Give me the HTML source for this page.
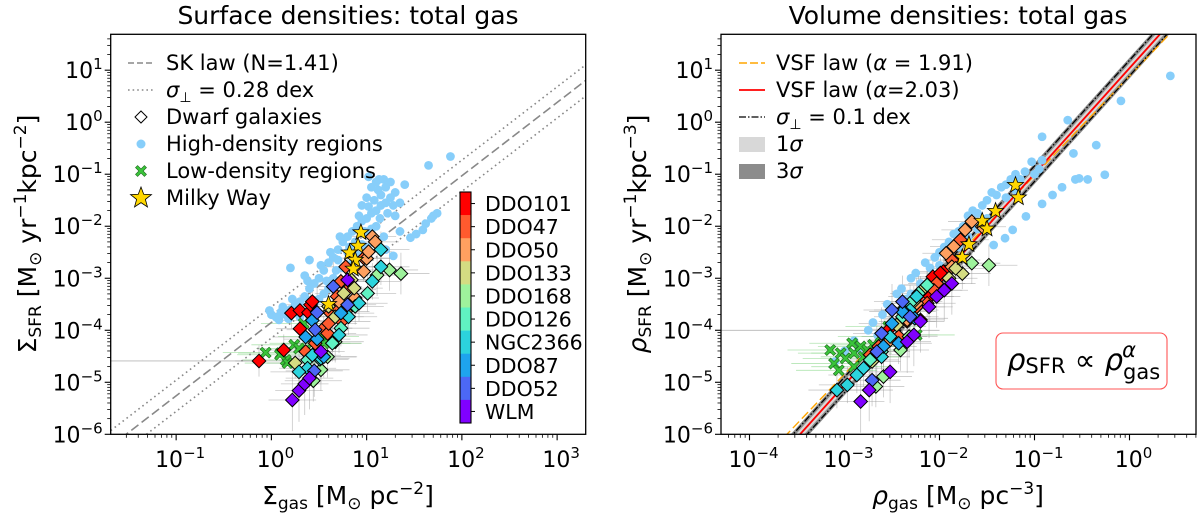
<!DOCTYPE html>
<html><head><meta charset="utf-8">
<style>
html,body{margin:0;padding:0;background:#fff;}
svg{display:block;font-family:"DejaVu Sans","Liberation Sans",sans-serif;}
</style></head>
<body>
<svg id="fig" width="1200" height="513" viewBox="0 0 1200 513" xmlns="http://www.w3.org/2000/svg">
<defs>
<clipPath id="clipL"><rect x="110.7" y="34.3" width="475" height="400"/></clipPath>
<clipPath id="clipR"><rect x="721" y="34.3" width="475" height="400"/></clipPath>
</defs>
<g id="gL"></g>
<g id="gR"></g>
</svg>
<script>
// ---------- DATA (log10 units) ----------
const galaxyNames = ["DDO101","DDO47","DDO50","DDO133","DDO168","DDO126","NGC2366","DDO87","DDO52","WLM"];
const galaxyColors = ["#ff0000","#ff5a2e","#ffa060","#d4dc82","#9ef29c","#60f2c2","#2cd3dd","#1ea4ee","#4c68f6","#8000ff"];
const errXdex = [0.25,0.3,0.25,0.3,0.3,0.3,0.3,0.35,0.3,0.25];
const errYdex = [0.3,0.25,0.2,0.3,0.4,0.35,0.35,0.4,0.5,0.6];

const leftBlue = [[0.0,-3.7],[0.05,-3.75],[0.1,-3.65],[0.15,-3.7],[0.2,-3.6],[0.12,-3.55],[0.25,-3.5],[-0.02,-3.62],[0.3,-3.45],[0.35,-3.35],[0.22,-3.4],[0.4,-3.2],[0.45,-3.1],[0.5,-3.0],[0.38,-3.05],[0.55,-2.85],[0.6,-2.7],[0.52,-2.75],[0.65,-2.6],[0.7,-2.45],[0.62,-2.5],[0.75,-2.3],[0.8,-2.2],[0.72,-2.2],[0.85,-2.1],[0.9,-2.0],[0.95,-1.9],[1.0,-1.85],[0.92,-1.8],[1.05,-1.75],[1.1,-1.7],[1.02,-1.62],[1.15,-1.6],[1.2,-1.55],[1.08,-1.5],[1.12,-1.3],[1.15,-1.4],[1.25,-1.45],[1.05,-1.25],[1.18,-1.1],[1.3,-1.35],[1.35,-1.55],[1.02,-1.05],[1.4,-1.2],[1.65,-0.83],[1.88,-0.66],[1.74,-1.75],[1.68,-1.85],[1.59,-2.07],[1.46,-2.22],[1.28,-2.57],[1.2,-2.45],[1.1,-2.3],[1.0,-2.4],[0.9,-2.55],[0.4,-2.65],[0.2,-2.8],[0.35,-2.95],[0.6,-3.2],[0.75,-2.8],[0.85,-2.7],[0.95,-2.35],[1.1,-2.0],[1.3,-1.8],[0.55,-3.3],[0.45,-3.5],[0.3,-3.75],[0.65,-3.0],[1.13,-1.1],[1.2,-1.25],[1.25,-1.15],
[0.08,-3.8],[0.18,-3.78],[0.28,-3.62],[0.5,-3.4],[0.58,-3.05],[0.68,-2.85],[0.8,-2.5],[0.88,-2.3],[0.98,-2.1],[1.05,-2.05],[1.14,-1.85],[1.22,-1.75],[1.0,-1.45],[0.95,-1.6],[1.1,-1.15],[1.28,-1.6],[0.7,-2.65],[0.82,-2.4],[1.18,-2.2],[1.35,-2.1],[1.52,-2.15],[1.62,-1.95],[1.7,-1.8]];
const leftDiamonds = [[0.21,-3.67,0],[0.30,-3.62,0],[0.39,-3.66,0],[0.41,-3.51,0],[0.43,-3.45,0],[0.30,-3.97,0],[0.13,-4.38,0],[-0.13,-4.59,0],
[0.78,-2.78,1],[0.73,-3.06,1],[0.69,-3.35,1],[0.62,-3.67,1],[0.55,-3.96,1],[0.59,-4.06,1],[0.46,-4.25,1],[0.36,-4.41,1],[0.67,-3.54,1],[0.80,-3.22,1],[0.97,-2.61,1],[0.74,-3.83,1],[0.60,-3.87,1],
[1.06,-2.2,2],[1.0,-2.62,2],[1.02,-2.49,2],[0.97,-2.87,2],[0.88,-3.38,2],[0.83,-3.03,2],[1.09,-2.3,2],[0.71,-3.45,2],[0.78,-3.64,2],
[0.84,-3.03,3],[0.60,-3.54,3],[0.25,-4.63,3],[0.87,-3.19,3],[0.76,-3.29,3],[0.67,-3.74,3],
[1.36,-2.91,4],[1.24,-2.84,4],[1.11,-2.94,4],[0.44,-4.97,4],[0.52,-4.76,4],[0.59,-4.51,4],[0.67,-4.22,4],
[1.01,-3.29,5],[0.88,-3.54,5],[0.73,-3.96,5],[0.64,-4.25,5],[0.51,-4.56,5],[0.38,-4.57,5],
[1.15,-2.45,6],[1.15,-2.78,6],[1.06,-3.06,6],[0.92,-3.48,6],[0.81,-3.74,6],[0.71,-4.09,6],[0.52,-4.54,6],[0.38,-4.73,6],[0.29,-4.80,6],[0.43,-4.48,6],
[0.43,-3.81,7],[0.36,-4.13,7],[0.55,-4.51,7],[0.48,-4.17,7],[0.73,-3.67,7],
[0.65,-3.16,8],[0.48,-3.66,8],[0.46,-3.99,8],[0.45,-4.78,8],[0.80,-3.51,8],
[0.22,-5.34,9],[0.29,-5.16,9],[0.35,-5.03,9],[0.40,-4.92,9],[0.80,-3.03,9],[0.52,-4.41,9]];
const leftCross = [[-0.06,-4.43],[0.15,-4.57],[0.34,-3.87],[0.10,-4.44],[0.24,-4.28],[0.29,-4.35],[0.43,-4.25],[0.52,-4.12],[0.17,-4.63],[0.55,-4.25],[0.09,-4.47]];
const leftStars = [[0.94,-2.12],[0.91,-2.38],[0.82,-2.51],[0.88,-2.65],[0.86,-2.82],[0.60,-3.5]];
const skSlope = 1.41, skIntercept = -3.85, skScatterDex = 0.30;

const rightBlue = [[-3.1,-4.6],[-3.0,-4.4],[-2.9,-4.2],[-2.85,-4.35],[-2.75,-4.0],[-2.7,-3.85],[-2.65,-4.1],[-2.6,-3.7],[-2.55,-3.5],[-2.5,-3.6],[-2.45,-3.3],[-2.4,-3.2],[-2.35,-3.4],[-2.3,-3.0],[-2.25,-2.9],[-2.2,-3.1],[-2.15,-2.7],[-2.1,-2.8],[-2.05,-2.6],[-2.0,-2.5],[-1.95,-2.4],[-1.9,-2.3],[-1.85,-2.15],[-1.8,-2.1],[-1.75,-2.0],[-1.7,-1.8],[-1.65,-1.7],[-1.6,-1.75],[-1.55,-1.6],[-1.5,-1.5],[-1.45,-1.35],[-1.4,-1.4],[-1.35,-1.25],[-1.3,-1.2],[-1.25,-1.1],[-1.2,-1.0],[-1.15,-1.1],[-1.1,-0.95],[-1.3,-1.45],[-1.2,-1.3],[-1.5,-1.85],[-1.6,-2.05],[-1.7,-2.2],[-2.3,-3.3],[-2.5,-3.9],[-2.8,-4.5],[-2.0,-2.75],[-1.8,-2.4],
[0.43,0.89],[-0.09,0.41],[-0.65,0.04],[-0.35,-0.44],[-0.59,-0.6],[-0.26,-1.01],[-0.44,-1.1],[-0.57,-1.1],[-0.53,-1.08],[-0.71,-1.25],[-0.81,-1.4],[-0.92,-1.57],[-0.92,-0.73],[-0.92,-0.28],[-1.03,-0.76],[-1.09,-1.81],[-1.23,-2.07],[-1.31,-2.23],[-1.43,-2.36],[-0.95,-0.9],[-1.0,-1.0]];
const rightDiamonds = [[-1.96,-2.87,0],[-2.01,-3.0,0],[-2.07,-2.97,0],[-2.10,-3.35,0],[-2.20,-3.80,0],[-2.53,-3.98,0],[-2.13,-3.13,0],[-1.99,-2.9,0],
[-1.78,-2.26,1],[-1.87,-2.65,1],[-2.03,-3.10,1],[-2.13,-3.48,1],[-2.24,-3.55,1],[-2.34,-3.83,1],[-2.43,-4.12,1],[-2.73,-4.47,1],[-2.64,-4.31,1],[-2.06,-3.23,1],
[-1.66,-1.91,2],[-1.73,-2.07,2],[-1.55,-2.01,2],[-1.85,-2.39,2],[-1.93,-2.52,2],[-2.24,-3.48,2],[-2.52,-4.19,2],[-2.34,-3.80,2],[-1.87,-2.78,2],
[-1.76,-2.91,3],[-1.83,-2.81,3],[-2.20,-3.26,3],[-2.27,-3.45,3],[-1.90,-3.0,3],[-2.71,-4.6,3],[-2.45,-3.90,3],
[-1.48,-2.75,4],[-1.66,-2.71,4],[-2.59,-4.89,4],[-2.67,-5.08,4],[-2.41,-4.38,4],[-2.32,-4.12,4],
[-2.13,-3.13,5],[-2.22,-3.29,5],[-2.31,-3.48,5],[-2.39,-3.74,5],[-2.73,-4.57,5],[-2.61,-4.41,5],
[-2.24,-3.35,6],[-2.31,-3.61,6],[-2.39,-3.61,6],[-2.52,-4.12,6],[-2.61,-4.51,6],[-2.80,-4.73,6],[-2.87,-4.86,6],[-2.97,-5.05,6],[-3.08,-5.15,6],
[-2.39,-3.64,7],[-2.50,-3.87,7],[-2.43,-4.25,7],[-2.59,-4.31,7],[-2.26,-3.77,7],
[-2.39,-3.45,8],[-2.50,-3.61,8],[-2.61,-4.06,8],[-2.66,-4.41,8],[-2.71,-4.96,8],[-2.31,-3.74,8],
[-2.83,-5.37,9],[-2.74,-5.15,9],[-2.52,-4.80,9],[-2.34,-4.22,9],[-2.27,-4.09,9],[-2.20,-3.83,9],[-2.11,-3.55,9],[-2.03,-3.35,9],[-1.95,-3.23,9],[-1.87,-3.10,9]];
const rightCross = [[-3.15,-4.38],[-3.04,-4.44],[-3.11,-4.64],[-2.99,-4.54],[-2.90,-4.44],[-2.83,-4.31],[-2.80,-4.51],[-2.70,-4.28],[-2.90,-4.70],[-2.62,-4.12],[-2.54,-3.93],[-2.24,-4.09],[-2.92,-4.25],[-2.76,-4.38],[-3.06,-4.77]];
const rightStars = [[-1.20,-1.21],[-1.17,-1.45],[-1.41,-1.71],[-1.55,-1.90],[-1.69,-2.35],[-1.76,-2.6],[-1.5,-2.05]];
const vsfSlopeA = 1.91, vsfInterceptA = 0.888;
const vsfSlopeB = 2.03, vsfInterceptB = 1.04;
const vsfScatterDex = 0.15;

const yTickExps = [-6,-5,-4,-3,-2,-1,0,1];
const xTickExpsL = [-1,0,1,2,3];
const xTickExpsR = [-4,-3,-2,-1,0];

// ---------- helpers ----------
const NS="http://www.w3.org/2000/svg";
function el(tag, attrs, parent){const e=document.createElementNS(NS,tag);for(const k in attrs)e.setAttribute(k,attrs[k]);if(parent)parent.appendChild(e);return e;}
function mkAxes(x0,x1,lxmin,lxmax){
  return {x0:x0,x1:x1,y0:434.3,y1:34.3,
    sx:lx=>x0+(lx-lxmin)/(lxmax-lxmin)*(x1-x0),
    sy:ly=>434.3-(ly+6)/(1.69+6)*400, lxmin:lxmin,lxmax:lxmax};
}
const AL = mkAxes(110.7,585.7,-1.687,3.30);
const AR = mkAxes(721,1196,-4.30,0.70);

function diamondPath(x,y,r){return `M${x},${y-r}L${x+r},${y}L${x},${y+r}L${x-r},${y}Z`;}
function starPath(x,y,R){let d="";for(let i=0;i<10;i++){const r=i%2?R*0.42:R;const a=-Math.PI/2+i*Math.PI/5;d+=(i?"L":"M")+(x+r*Math.cos(a)).toFixed(2)+","+(y+r*Math.sin(a)).toFixed(2);}return d+"Z";}
function crossPath(x,y,r){const w=r*0.38;return `M${x-r},${y-r+w}L${x-r+w},${y-r}L${x},${y-w}L${x+r-w},${y-r}L${x+r},${y-r+w}L${x+w},${y}L${x+r},${y+r-w}L${x+r-w},${y+r}L${x},${y+w}L${x-r+w},${y+r}L${x-r},${y+r-w}L${x-w},${y}Z`;}

function tickLabel(g,x,y,exp,anchor){
  const t=el("text",{x:x,y:y,"font-size":22,"text-anchor":anchor,fill:"#000"},g);
  
  
  const a=el("tspan",{},t);a.textContent="10";
  const b=el("tspan",{dy:-9,"font-size":15},t);b.textContent=(exp<0?"\u2212":"")+Math.abs(exp);
}

function drawAxes(g,A,xExps){
  const fr=el("rect",{x:A.x0,y:A.y1,width:A.x1-A.x0,height:A.y0-A.y1,fill:"none",stroke:"#000","stroke-width":1.3},g);
  
  
  for(let d=-6;d<=1;d++){
    for(let m=1;m<10;m++){
      const ly=d+Math.log10(m); if(ly>1.69) break;
      const y=A.sy(ly); const len=m===1?6:3.5;
      el("line",{x1:A.x0-len,x2:A.x0,y1:y,y2:y,stroke:"#000","stroke-width":m===1?1.1:0.8},g);
    }
  }
  yTickExps.forEach(e=>tickLabel(g,A.x0-8,A.sy(e)+8,e,"end"));
  for(let d=Math.floor(A.lxmin);d<=Math.ceil(A.lxmax);d++){
    for(let m=1;m<10;m++){
      const lx=d+Math.log10(m); if(lx<A.lxmin||lx>A.lxmax) continue;
      const x=A.sx(lx); const len=m===1?6:3.5;
      el("line",{x1:x,x2:x,y1:A.y0,y2:A.y0+len,stroke:"#000","stroke-width":m===1?1.1:0.8},g);
    }
  }
  xExps.forEach(e=>tickLabel(g,A.sx(e)+4,467,e,"middle"));
}

function drawErrors(g,A,diamonds,crosses){
  diamonds.forEach(p=>{
    const x=A.sx(p[0]),y=A.sy(p[1]);
    const ex=errXdex[p[2]],ey=errYdex[p[2]];
    el("line",{x1:A.sx(p[0]-ex),x2:A.sx(p[0]+ex),y1:y,y2:y,stroke:"#999","stroke-width":0.8,"stroke-opacity":0.55},g);
    el("line",{x1:x,x2:x,y1:A.sy(p[1]-ey),y2:A.sy(p[1]+ey),stroke:"#999","stroke-width":0.8,"stroke-opacity":0.55},g);
  });
  crosses.forEach(p=>{
    const y=A.sy(p[1]);
    el("line",{x1:A.sx(p[0]-0.45),x2:A.sx(p[0]+0.4),y1:y,y2:y,stroke:"#6c6","stroke-width":0.8,"stroke-opacity":0.5},g);
  });
}

function drawPoints(g,A,blue,diamonds,crosses,stars){
  blue.forEach(p=>{const c=el("circle",{cx:A.sx(p[0]),cy:A.sy(p[1]),r:4.4,fill:"#87cefa"},g);
    
    });
  crosses.forEach(p=>{const c=el("path",{d:crossPath(A.sx(p[0]),A.sy(p[1]),5.5),fill:"#3ac43a",stroke:"#1a6a1a","stroke-width":0.6},g);
    
    });
  diamonds.forEach(p=>{const c=el("path",{d:diamondPath(A.sx(p[0]),A.sy(p[1]),6.8),fill:galaxyColors[p[2]],stroke:"#000","stroke-width":1},g);
    
    });
  stars.forEach(p=>{const c=el("path",{d:starPath(A.sx(p[0]),A.sy(p[1]),8.5),fill:"#ffd700",stroke:"#000","stroke-width":0.8},g);
    
    });
}

function lineD(A,slope,icpt,off){
  const a=A.lxmin,b=A.lxmax;
  return `M${A.sx(a)},${A.sy(slope*a+icpt+off)}L${A.sx(b)},${A.sy(slope*b+icpt+off)}`;
}

function legendText(g,x,y,html,name){
  const t=el("text",{x:x,y:y,"font-size":21,fill:"#000"},g);
  
  
  t.innerHTML=html; return t;
}

// ---------- LEFT PANEL ----------
const gL=document.getElementById("gL");
const tl=el("text",{x:348,y:24,"font-size":25,"text-anchor":"middle"},gL);tl.textContent="Surface densities: total gas";


const pL=el("g",{"clip-path":"url(#clipL)"},gL);


el("line",{x1:AL.sx(-1.7),x2:AL.sx(-0.13),y1:AL.sy(-4.59),y2:AL.sy(-4.59),stroke:"#999","stroke-width":0.9,"stroke-opacity":0.7},pL);
drawErrors(pL,AL,leftDiamonds,leftCross);
const sk=el("path",{d:lineD(AL,skSlope,skIntercept,0),stroke:"#888","stroke-width":1.6,"stroke-dasharray":"9,4",fill:"none"},pL);


[-1,1].forEach(s=>{const d=el("path",{d:lineD(AL,skSlope,skIntercept,s*skScatterDex),stroke:"#888","stroke-width":1.6,"stroke-dasharray":"1.6,3.4",fill:"none"},pL);
  
  });
drawPoints(pL,AL,leftBlue,leftDiamonds,leftCross,leftStars);
drawAxes(gL,AL,xTickExpsL);
const lgL=el("g",{},gL);


el("line",{x1:128,x2:154,y1:63,y2:63,stroke:"#888","stroke-width":1.6,"stroke-dasharray":"6,3"},lgL);
legendText(lgL,166,70,"SK law (N=1.41)","legend-sk-law");
el("line",{x1:128,x2:154,y1:90,y2:90,stroke:"#888","stroke-width":1.6,"stroke-dasharray":"1.6,3"},lgL);
legendText(lgL,166,97,'<tspan font-style="italic">σ</tspan><tspan font-size="14" dy="5">⊥</tspan><tspan dy="-5"> = 0.28 dex</tspan>',"legend-scatter");
el("path",{d:diamondPath(141,117,6),fill:"#fff",stroke:"#000","stroke-width":1},lgL);
legendText(lgL,166,124,"Dwarf galaxies","legend-dwarf");
el("circle",{cx:141,cy:144,r:4.5,fill:"#87cefa"},lgL);
legendText(lgL,166,151,"High-density regions","legend-high-density");
el("path",{d:crossPath(141,171,5.5),fill:"#3ac43a",stroke:"#1a6a1a","stroke-width":0.6},lgL);
legendText(lgL,166,178,"Low-density regions","legend-low-density");
el("path",{d:starPath(141,198,11),fill:"#ffd700",stroke:"#000","stroke-width":0.8},lgL);
legendText(lgL,166,205,"Milky Way","legend-milky-way");
const cb=el("g",{},gL);


const segH=(423-192)/galaxyNames.length;
galaxyNames.forEach((n,i)=>{
  el("rect",{x:460,y:192+i*segH,width:11,height:segH+0.3,fill:galaxyColors[i]},cb);
  const yc=192+(i+0.5)*segH;
  el("line",{x1:471,x2:475,y1:yc,y2:yc,stroke:"#000","stroke-width":1},cb);
  const t=el("text",{x:485,y:yc+7.5,"font-size":20.5},cb);t.textContent=n;
  
  
});
el("rect",{x:460,y:192,width:11,height:231,fill:"none",stroke:"#000","stroke-width":1.1},cb);
const ylL=el("text",{transform:"translate(36,234) rotate(-90)","text-anchor":"middle","font-size":25},gL);


ylL.innerHTML='Σ<tspan font-size="17" dy="5">SFR</tspan><tspan dy="-5"> [M</tspan><tspan font-size="17" dy="5">⊙</tspan><tspan dy="-5"> yr</tspan><tspan font-size="17" dy="-10">−1</tspan><tspan dy="10">kpc</tspan><tspan font-size="17" dy="-10">−2</tspan><tspan dy="10">]</tspan>';
const xlL=el("text",{x:348,y:504,"text-anchor":"middle","font-size":25},gL);


xlL.innerHTML='Σ<tspan font-size="17" dy="5">gas</tspan><tspan dy="-5"> [M</tspan><tspan font-size="17" dy="5">⊙</tspan><tspan dy="-5"> pc</tspan><tspan font-size="17" dy="-10">−2</tspan><tspan dy="10">]</tspan>';

// ---------- RIGHT PANEL ----------
const gR=document.getElementById("gR");
const tr=el("text",{x:958,y:24,"font-size":25,"text-anchor":"middle"},gR);tr.textContent="Volume densities: total gas";


const pR=el("g",{"clip-path":"url(#clipR)"},gR);


el("line",{x1:AR.sx(-4.4),x2:AR.sx(-2.0),y1:AR.sy(-4.0),y2:AR.sy(-4.0),stroke:"#999","stroke-width":0.9,"stroke-opacity":0.7},pR);
drawErrors(pR,AR,rightDiamonds,rightCross);
function band(off,fill,name){
  const a=AR.lxmin,b=AR.lxmax;
  const d=`M${AR.sx(a)},${AR.sy(vsfSlopeB*a+vsfInterceptB+off)}L${AR.sx(b)},${AR.sy(vsfSlopeB*b+vsfInterceptB+off)}L${AR.sx(b)},${AR.sy(vsfSlopeB*b+vsfInterceptB-off)}L${AR.sx(a)},${AR.sy(vsfSlopeB*a+vsfInterceptB-off)}Z`;
  const p=el("path",{d:d,fill:fill},pR);
  
  
}
band(0.2,"#8c8c8c","three-sigma-band");
band(0.09,"#d8d8d8","one-sigma-band");
const la=el("path",{d:lineD(AR,vsfSlopeA,vsfInterceptA,0),stroke:"#ffa500","stroke-width":1.4,"stroke-dasharray":"9,4",fill:"none"},pR);


[-1,1].forEach(s=>{const d=el("path",{d:lineD(AR,vsfSlopeB,vsfInterceptB,s*vsfScatterDex),stroke:"#000","stroke-width":1.3,"stroke-dasharray":"7,2,1.5,2",fill:"none"},pR);
  
  });
const lb=el("path",{d:lineD(AR,vsfSlopeB,vsfInterceptB,0),stroke:"#ff0000","stroke-width":1.8,fill:"none"},pR);


drawPoints(pR,AR,rightBlue,rightDiamonds,rightCross,rightStars);
drawAxes(gR,AR,xTickExpsR);
const lgR=el("g",{},gR);


el("line",{x1:739,x2:765,y1:63,y2:63,stroke:"#ffa500","stroke-width":1.4,"stroke-dasharray":"8,3"},lgR);
legendText(lgR,776,70,'VSF law (<tspan font-style="italic">α</tspan> = 1.91)',"legend-vsf-191");
el("line",{x1:739,x2:765,y1:90,y2:90,stroke:"#ff0000","stroke-width":1.8},lgR);
legendText(lgR,776,97,'VSF law (<tspan font-style="italic">α</tspan>=2.03)',"legend-vsf-203");
el("line",{x1:739,x2:765,y1:117,y2:117,stroke:"#000","stroke-width":1.3,"stroke-dasharray":"7,2,1.5,2"},lgR);
legendText(lgR,776,124,'<tspan font-style="italic">σ</tspan><tspan font-size="14" dy="5">⊥</tspan><tspan dy="-5"> = 0.1 dex</tspan>',"legend-scatter");
el("rect",{x:739,y:137,width:26,height:15,fill:"#d8d8d8"},lgR);
legendText(lgR,776,151,'1<tspan font-style="italic">σ</tspan>',"legend-1sigma");
el("rect",{x:739,y:164,width:26,height:15,fill:"#8c8c8c"},lgR);
legendText(lgR,776,178,'3<tspan font-style="italic">σ</tspan>',"legend-3sigma");
const ann=el("g",{},gR);


el("rect",{x:996,y:333,width:171,height:56,rx:7,fill:"#fff",stroke:"#f55","stroke-width":1.1},ann);
const at=el("text",{x:1007,y:370,"font-size":29},ann);
at.innerHTML='<tspan font-style="italic">ρ</tspan><tspan font-size="21" dy="3">SFR</tspan><tspan dy="-3"> ∝ </tspan><tspan font-style="italic">ρ</tspan><tspan font-size="21" dy="9">gas</tspan><tspan font-size="21" font-style="italic" dx="-38" dy="-22">α</tspan>';
const ylR=el("text",{transform:"translate(646,234) rotate(-90)","text-anchor":"middle","font-size":25},gR);


ylR.innerHTML='<tspan font-style="italic">ρ</tspan><tspan font-size="17" dy="5">SFR</tspan><tspan dy="-5"> [M</tspan><tspan font-size="17" dy="5">⊙</tspan><tspan dy="-5"> yr</tspan><tspan font-size="17" dy="-10">−1</tspan><tspan dy="10">kpc</tspan><tspan font-size="17" dy="-10">−3</tspan><tspan dy="10">]</tspan>';
const xlR=el("text",{x:958,y:504,"text-anchor":"middle","font-size":25},gR);


xlR.innerHTML='<tspan font-style="italic">ρ</tspan><tspan font-size="17" dy="5">gas</tspan><tspan dy="-5"> [M</tspan><tspan font-size="17" dy="5">⊙</tspan><tspan dy="-5"> pc</tspan><tspan font-size="17" dy="-10">−3</tspan><tspan dy="10">]</tspan>';
</script>
</body></html>
